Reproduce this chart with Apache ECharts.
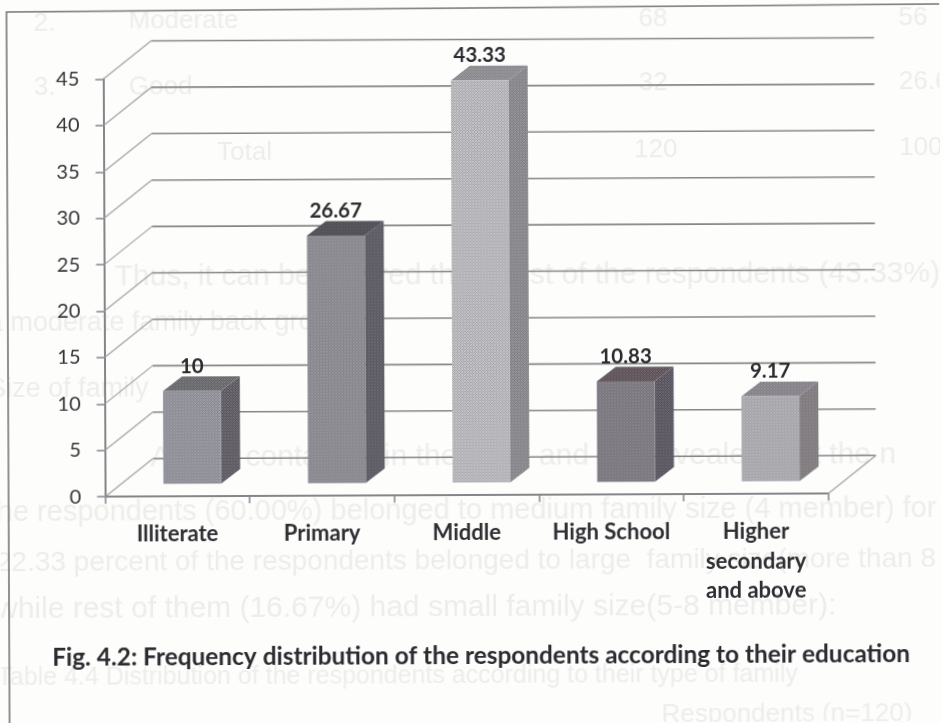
<!DOCTYPE html>
<html>
<head>
<meta charset="utf-8">
<script src="https://cdn.jsdelivr.net/npm/echarts@6/dist/echarts.min.js"></script>
<style>
html,body{margin:0;padding:0;background:#fdfdfc;overflow:hidden;}
#chart{width:941px;height:723px;transform:rotate(-0.25deg);transform-origin:50% 50%;}
</style>
</head>
<body>
<div id="chart"></div>
<script>
var categories = ['Illiterate', 'Primary', 'Middle', 'High School', 'Higher\nsecondary\nand above'];
var valueLabels = ['10', '26.67', '43.33', '10.83', '9.17'];
var values = [10, 26.67, 43.33, 10.83, 9.17];
var gridValues = [0, 5, 10, 15, 20, 25, 30, 35, 40, 45];
var figureCaption = 'Fig. 4.2: Frequency distribution of the respondents according to their education';
var frontColour = [[146, 146, 155], [141, 139, 146], [182, 181, 186], [126, 124, 130], [170, 169, 173]];
var sideColour  = [[100, 96, 104], [96, 94, 102], [138, 137, 142], [94, 91, 100], [130, 126, 130]];
var topColour   = [[110, 110, 114], [85, 83, 90], [143, 142, 146], [100, 89, 94], [137, 135, 141]];
var showThrough = [
  ['2.', 35, 22, 26], ['Moderate', 130, 20, 26], ['68', 640, 20, 26], ['56', 900, 20, 26],
  ['3.', 35, 86, 26], ['Good', 130, 86, 26], ['32', 640, 84, 26], ['26.67', 900, 84, 26],
  ['Total', 218, 152, 26], ['120', 635, 151, 26], ['100', 900, 150, 26],
  ['Thus, it can be inferred that most of the respondents (43.33%)', 115, 276, 30],
  ['a moderate family back ground', -12, 322, 27],
  ['Size of family', -12, 388, 27],
  ['A data contained in the table and 4.4 revealed that the n', 150, 457, 30],
  ['the respondents (60.00%) belonged to medium family size (4 member) for', -12, 511, 29],
  ['22.33 percent of the respondents belonged to large  family size(more than 8', -5, 561, 28],
  ['while rest of them (16.67%) had small family size(5-8 member):', -5, 608, 30],
  ['Table 4.4 Distribution of the respondents according to their type of family', -4, 676, 25],
  ['Respondents (n=120)', 660, 716, 26]
];

function texture(rgb, amp) {
  var c = document.createElement('canvas');
  c.width = 6; c.height = 6;
  var g = c.getContext('2d');
  for (var y = 0; y < 6; y++) {
    for (var x = 0; x < 6; x++) {
      var d = 0;
      if ((Math.floor(x / 3) + Math.floor(y / 3)) % 2) d = (x + y) % 2 ? amp : -amp;
      g.fillStyle = 'rgb(' + (rgb[0] + d) + ',' + (rgb[1] + d) + ',' + (rgb[2] + d) + ')';
      g.fillRect(x, y, 1, 1);
    }
  }
  return { image: c, repeat: 'repeat' };
}

var WALL_DX = 48, WALL_DY = -38;
var BAR_OFFSET_X = 15, BAR_OFFSET_Y = -12.6;
var BAR_DX = 19, BAR_DY = -14.6;
var BAR_WIDTH_RATIO = 0.4;
var FONT = 'Lato, "Open Sans", sans-serif';

function poly(points, fill, z2) {
  return { type: 'polygon', z2: z2, shape: { points: points }, style: { fill: fill } };
}

function renderWall(params, api) {
  var v = api.value(0);
  var y = api.coord([0, v])[1];
  var x0 = params.coordSys.x, x1 = x0 + params.coordSys.width;
  var children = [
    { type: 'line', shape: { x1: x0, y1: y, x2: x0 + WALL_DX, y2: y + WALL_DY }, style: { stroke: '#a0a0a0', lineWidth: 1.2 } },
    { type: 'line', shape: { x1: x0 + WALL_DX, y1: y + WALL_DY, x2: x1 + WALL_DX, y2: y + WALL_DY }, style: { stroke: '#868686', lineWidth: 1.6 } }
  ];
  if (v === 0) {
    children.push({ type: 'line', shape: { x1: x1, y1: y, x2: x1 + WALL_DX, y2: y + WALL_DY }, style: { stroke: '#a0a0a0', lineWidth: 1.2 } });
  }
  return { type: 'group', children: children };
}

function renderBar(params, api) {
  var i = api.value(0), v = api.value(1);
  var base = api.coord([i, 0]), top = api.coord([i, v]);
  var w = api.size([1, 0])[0] * BAR_WIDTH_RATIO;
  var xl = base[0] - w / 2 + BAR_OFFSET_X, xr = xl + w;
  var yb = base[1] + BAR_OFFSET_Y, yt = top[1] + BAR_OFFSET_Y;
  return { type: 'group', children: [
    poly([[xr, yb], [xr + BAR_DX, yb + BAR_DY], [xr + BAR_DX, yt + BAR_DY], [xr, yt]], texture(sideColour[i], 20), 1),
    poly([[xl, yt], [xr, yt], [xr + BAR_DX, yt + BAR_DY], [xl + BAR_DX, yt + BAR_DY]], texture(topColour[i], 16), 1),
    poly([[xl, yb], [xr, yb], [xr, yt], [xl, yt]], texture(frontColour[i], 20), 2),
    { type: 'text', z2: 5, style: { text: valueLabels[i], x: (xl + xr) / 2, y: yt + BAR_DY - 10, align: 'center', verticalAlign: 'middle',
        font: 'bold 20.5px ' + FONT, fill: '#2b2b30' } }
  ] };
}

var graphics = showThrough.map(function (t) {
  return { type: 'text', z: 0, silent: true, style: { text: t[0], x: t[1], y: t[2], fill: '#ededec', font: t[3] + 'px "Liberation Sans", sans-serif', verticalAlign: 'middle' } };
});
graphics.push(
  { type: 'polyline', z: 1, silent: true, shape: { points: [[8, 728], [8, 10], [950, 6]] }, style: { fill: 'none', stroke: '#77777a', lineWidth: 1.6 } }
);

var chart = echarts.init(document.getElementById('chart'));
chart.setOption({
  animation: false,
  backgroundColor: 'transparent',
  title: { text: figureCaption, left: 51, top: 644, padding: 0, textStyle: { fontFamily: FONT, fontSize: 24.4, fontWeight: 'bold', color: '#2b2b30' } },
  grid: { left: 104.5, top: 77.5, width: 723, height: 417.7 },
  xAxis: {
    type: 'category', data: categories, boundaryGap: true,
    axisLine: { lineStyle: { color: '#85858a', width: 2 } },
    axisTick: { show: true, alignWithLabel: false, length: 7, lineStyle: { color: '#85858a', width: 1.5 } },
    axisLabel: { interval: 0, margin: 23, fontFamily: FONT, fontSize: 22, fontWeight: 'bold', lineHeight: 29.5, color: '#2e2e33' }
  },
  yAxis: {
    type: 'value', min: 0, max: 45, interval: 5,
    axisLine: { show: true, lineStyle: { color: '#85858a', width: 2 } },
    axisTick: { show: true, length: 8, lineStyle: { color: '#85858a', width: 1.5 } },
    axisLabel: { margin: 24, fontFamily: FONT, fontSize: 20, color: '#333338' },
    splitLine: { show: false }
  },
  graphic: graphics,
  series: [
    { type: 'custom', name: 'wall', z: 1, clip: false, silent: true, renderItem: renderWall, data: gridValues.map(function (v) { return [v]; }), encode: { x: -1, y: 0 } },
    { type: 'custom', name: 'bars', z: 3, clip: false, silent: true, renderItem: renderBar, data: values.map(function (v, i) { return [i, v]; }), encode: { x: 0, y: 1 } }
  ]
});
</script>
</body>
</html>
